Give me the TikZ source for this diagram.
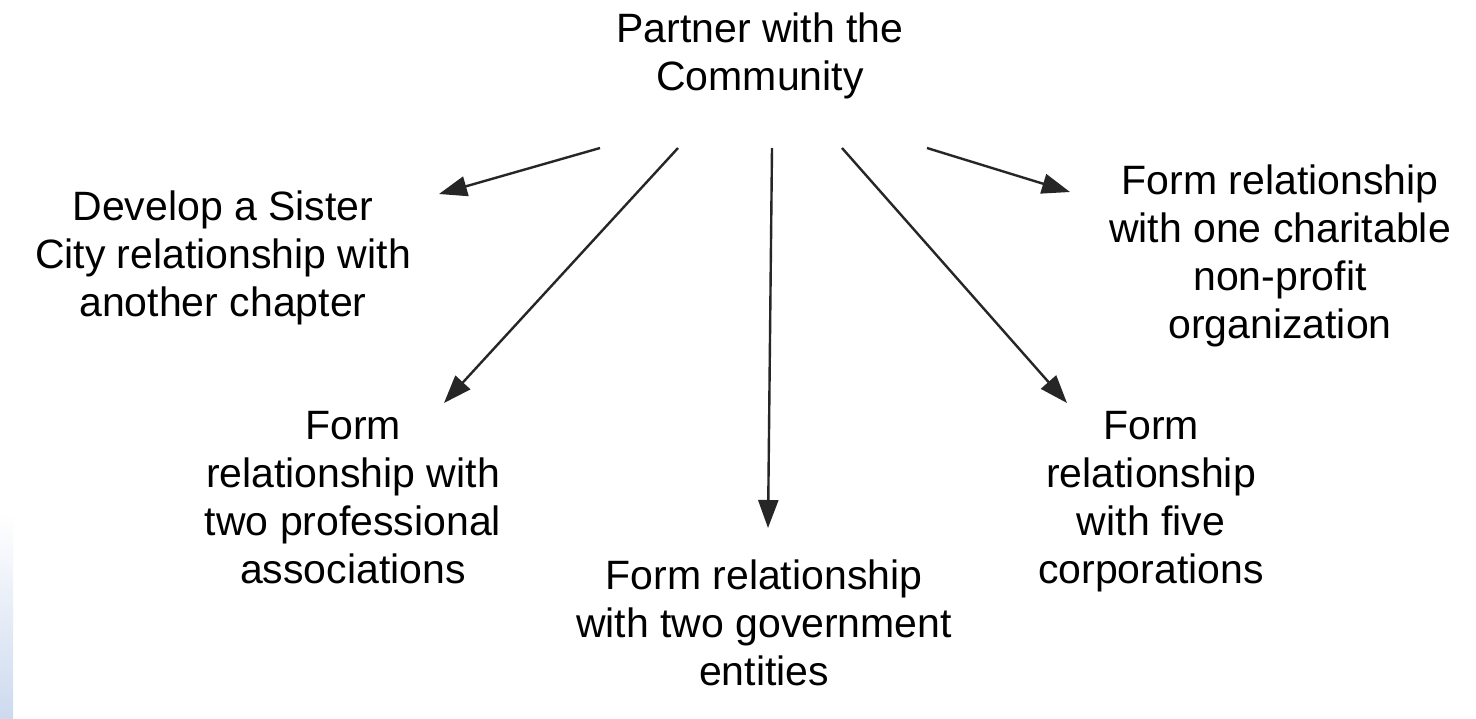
\documentclass[tikz,border=0pt]{standalone}
\usepackage{fontspec}
\setmainfont{Liberation Sans}
\usetikzlibrary{arrows.meta}
\definecolor{stripblue}{RGB}{205,218,238}
\tikzset{
  label/.style={align=center, anchor=base, inner sep=0pt, font=\fontsize{41}{48}\selectfont},
  link/.style={line width=2.4pt, draw=black!85, -{Triangle[length=28pt,width=20pt]}}
}
\begin{document}
\begin{tikzpicture}[x=1pt,y=-1pt]
\useasboundingbox (0,0) rectangle (1476,718);
\fill[white] (0,0) rectangle (1476,718);
\shade[top color=white, bottom color=stripblue] (0,513) rectangle (13,718);

% anchor=base is the baseline of the last line
\node[label] (top) at (760,90) {Partner with the\\Community};
\node[label] (sister) at (223,316) {Develop a Sister\\City relationship with\\another chapter};
\node[label] (prof) at (353,583) {Form\\relationship with\\two professional\\associations};
\node[label] (gov) at (764,685) {Form relationship\\with two government\\entities};
\node[label] (corp) at (1151,583) {Form\\relationship\\with five\\corporations};
\node[label] (charity) at (1280,338) {Form relationship\\with one charitable\\non-profit\\organization};

\coordinate (s1) at (600,148);
\coordinate (s2) at (678,148);
\coordinate (s3) at (772,148);
\coordinate (s4) at (842,148);
\coordinate (s5) at (927,148);
\coordinate (e1) at (439,194);
\coordinate (e2) at (444,403);
\coordinate (e3) at (768,528);
\coordinate (e4) at (1067,403);
\coordinate (e5) at (1070,192);

\draw[link] (s1) -- (e1);
\draw[link] (s2) -- (e2);
\draw[link] (s3) -- (e3);
\draw[link] (s4) -- (e4);
\draw[link] (s5) -- (e5);
\end{tikzpicture}
\end{document}
